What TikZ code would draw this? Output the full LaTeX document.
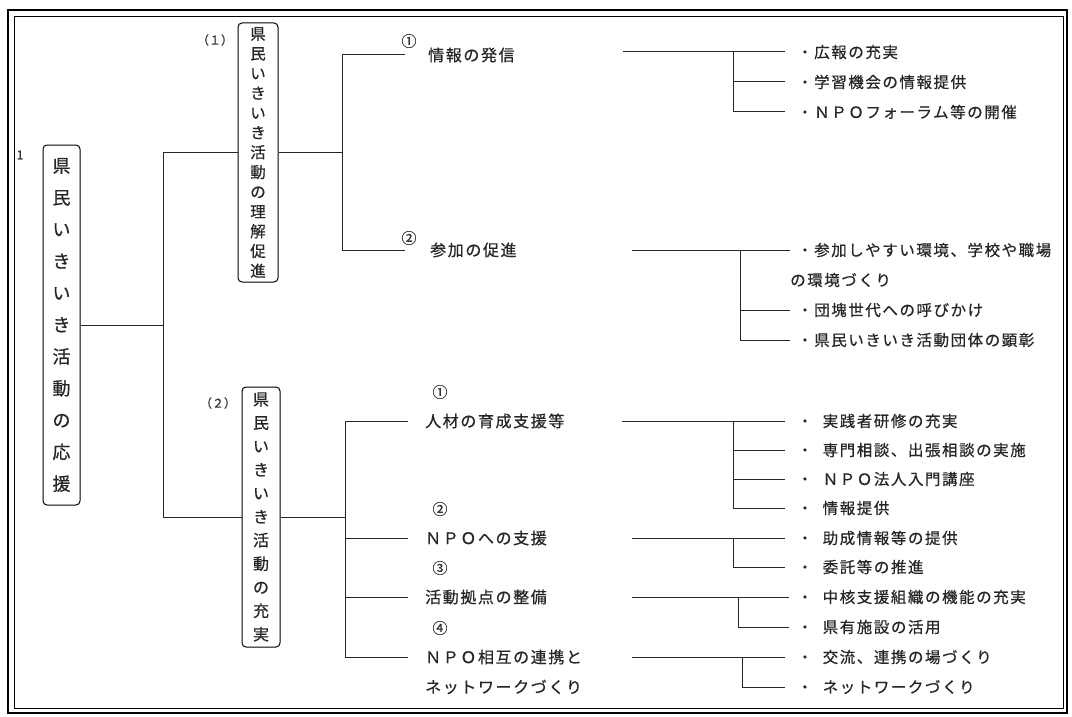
\documentclass[tikz,border=0pt]{standalone}
\usepackage{fontspec}
\newfontfamily\jp[LetterSpace=10,FakeBold=0.6]{Noto Sans CJK JP}
\newfontfamily\jpv[FakeBold=0.6]{Noto Sans CJK JP}
\begin{document}
\begin{tikzpicture}[x=1pt,y=-1pt,
  conn/.style={line width=1pt, black!85},
  vbox/.style={draw, line width=1pt, rounded corners=4pt, inner sep=0pt},
  lbl/.style={font=\jp\fontsize{16}{16}\selectfont, anchor=west, inner sep=0pt, text=black!85},
  itm/.style={font=\jp\fontsize{15.5}{16}\selectfont, anchor=west, inner sep=0pt, text=black!85},
  mk/.style={font=\jpv\fontsize{15}{15}\selectfont, inner sep=0pt, text=black!80},
  num/.style={font=\jpv\fontsize{12}{12}\selectfont, inner sep=0pt, text=black!80},
  vtxtA/.style={font=\jpv\fontsize{18}{31.8}\selectfont, align=center, inner sep=0pt, text=black!85},
  vtxtB/.style={font=\jpv\fontsize{15.5}{19.75}\selectfont, align=center, inner sep=0pt, text=black!85},
  vtxtC/.style={font=\jpv\fontsize{16}{23.5}\selectfont, align=center, inner sep=0pt, text=black!85}
]
\useasboundingbox (0,0) rectangle (1072,717);
% frame
\draw[line width=1.3pt] (8,10) rectangle (1067,713);
\draw[line width=0.9pt] (14,16) rectangle (1063,708);

% number
\node[num] (n1) at (20,155) {1};
\node[num] (p1) at (215,40) {（１）};
\node[num] (p2) at (218,403) {（２）};

% vertical boxes
\node[vbox, minimum width=37pt, minimum height=360pt] (boxL) at (61.5,325) {};
\node[vtxtA] (boxLt) at (boxL.center) {県\\民\\い\\き\\い\\き\\活\\動\\の\\応\\援};
\node[vbox, minimum width=40pt, minimum height=259pt] (box1) at (258,152.5) {};
\node[vtxtB] (box1t) at (box1.center) {県\\民\\い\\き\\い\\き\\活\\動\\の\\理\\解\\促\\進};
\node[vbox, minimum width=38pt, minimum height=260pt] (box2) at (261,517) {};
\node[vtxtC] (box2t) at (box2.center) {県\\民\\い\\き\\い\\き\\活\\動\\の\\充\\実};

% level 1 connectors
\coordinate (tr) at (163,0);
\draw[conn] (boxL.east) -- (boxL.east -| tr);
\draw[conn] (box1.west) -| (tr |- box2.west) -- (box2.west);

% ---------- upper part
\coordinate (b1) at (342,0);
\coordinate (e11) at (405,55);
\coordinate (e12) at (405,250);
\draw[conn] (box1.east) -- (box1.east -| b1);
\draw[conn] (e11) -| (b1 |- e12) -- (e12);
\node[mk] (m11) at (409,41) {①};
\node[mk] (m12) at (409,238) {②};
\node[lbl] (t11) at (428,55) {情報の発信};
\node[lbl] (t12) at (430,250) {参加の促進};

\node[itm] (i111) at (797,52) {・広報の充実};
\node[itm] (i112) at (797,82) {・学習機会の情報提供};
\node[itm] (i113) at (797,112) {・ＮＰＯフォーラム等の開催};
\coordinate (s11) at (623,52);
\coordinate (k11) at (733,52);
\draw[conn] (s11) -- ([xshift=-12pt]i111.west);
\draw[conn] (k11) |- ([xshift=-12pt]i113.west);
\draw[conn] (k11 |- i112.west) -- ([xshift=-12pt]i112.west);

\node[itm] (i121) at (797,250) {・参加しやすい環境、学校や職場};
\node[itm] (i121b) at (790,280) {の環境づくり};
\node[itm] (i122) at (797,310) {・団塊世代への呼びかけ};
\node[itm] (i123) at (797,340) {・県民いきいき活動団体の顕彰};
\coordinate (s12) at (632,250);
\coordinate (k12) at (740,250);
\draw[conn] (s12) -- ([xshift=-7pt]i121.west);
\draw[conn] (k12) |- ([xshift=-7pt]i123.west);
\draw[conn] (k12 |- i122.west) -- ([xshift=-7pt]i122.west);

% ---------- lower part
\coordinate (b2) at (345,0);
\coordinate (e21) at (408,421);
\coordinate (e22) at (408,538);
\coordinate (e23) at (408,597);
\coordinate (e24) at (408,657);
\draw[conn] (box2.east) -- (box2.east -| b2);
\draw[conn] (e21) -| (b2 |- e24) -- (e24);
\draw[conn] (b2 |- e22) -- (e22);
\draw[conn] (b2 |- e23) -- (e23);
\node[mk] (m21) at (440,392) {①};
\node[mk] (m22) at (440,509) {②};
\node[mk] (m23) at (440,568) {③};
\node[mk] (m24) at (440,628) {④};
\node[lbl] (t21) at (425,421) {人材の育成支援等};
\node[lbl] (t22) at (425,538) {ＮＰＯへの支援};
\node[lbl] (t23) at (425,597) {活動拠点の整備};
\node[lbl] (t24) at (425,657) {ＮＰＯ相互の連携と};
\node[lbl] (t24b) at (425,687) {ネットワークづくり};

\node[itm] (i211) at (797,421) {・\hspace{10pt}実践者研修の充実};
\node[itm] (i212) at (797,450) {・\hspace{10pt}専門相談、出張相談の実施};
\node[itm] (i213) at (797,479) {・\hspace{10pt}ＮＰＯ法人入門講座};
\node[itm] (i214) at (797,508) {・\hspace{10pt}情報提供};
\coordinate (s21) at (622,421);
\coordinate (k21) at (733,421);
\draw[conn] (s21) -- ([xshift=-12pt]i211.west);
\draw[conn] (k21) |- ([xshift=-12pt]i214.west);
\draw[conn] (k21 |- i212.west) -- ([xshift=-12pt]i212.west);
\draw[conn] (k21 |- i213.west) -- ([xshift=-12pt]i213.west);

\node[itm] (i221) at (797,538) {・\hspace{10pt}助成情報等の提供};
\node[itm] (i222) at (797,567) {・\hspace{10pt}委託等の推進};
\coordinate (s22) at (632,538);
\coordinate (k22) at (733,538);
\draw[conn] (s22) -- ([xshift=-12pt]i221.west);
\draw[conn] (k22) |- ([xshift=-12pt]i222.west);

\node[itm] (i231) at (797,597) {・\hspace{10pt}中核支援組織の機能の充実};
\node[itm] (i232) at (797,627) {・\hspace{10pt}県有施設の活用};
\coordinate (s23) at (632,597);
\coordinate (k23) at (738,597);
\draw[conn] (s23) -- ([xshift=-8pt]i231.west);
\draw[conn] (k23) |- ([xshift=-8pt]i232.west);

\node[itm] (i241) at (797,657) {・\hspace{10pt}交流、連携の場づくり};
\node[itm] (i242) at (797,687) {・\hspace{10pt}ネットワークづくり};
\coordinate (s24) at (632,657);
\coordinate (k24) at (742,657);
\draw[conn] (s24) -- ([xshift=-12pt]i241.west);
\draw[conn] (k24) |- ([xshift=-12pt]i242.west);
\end{tikzpicture}
\end{document}
